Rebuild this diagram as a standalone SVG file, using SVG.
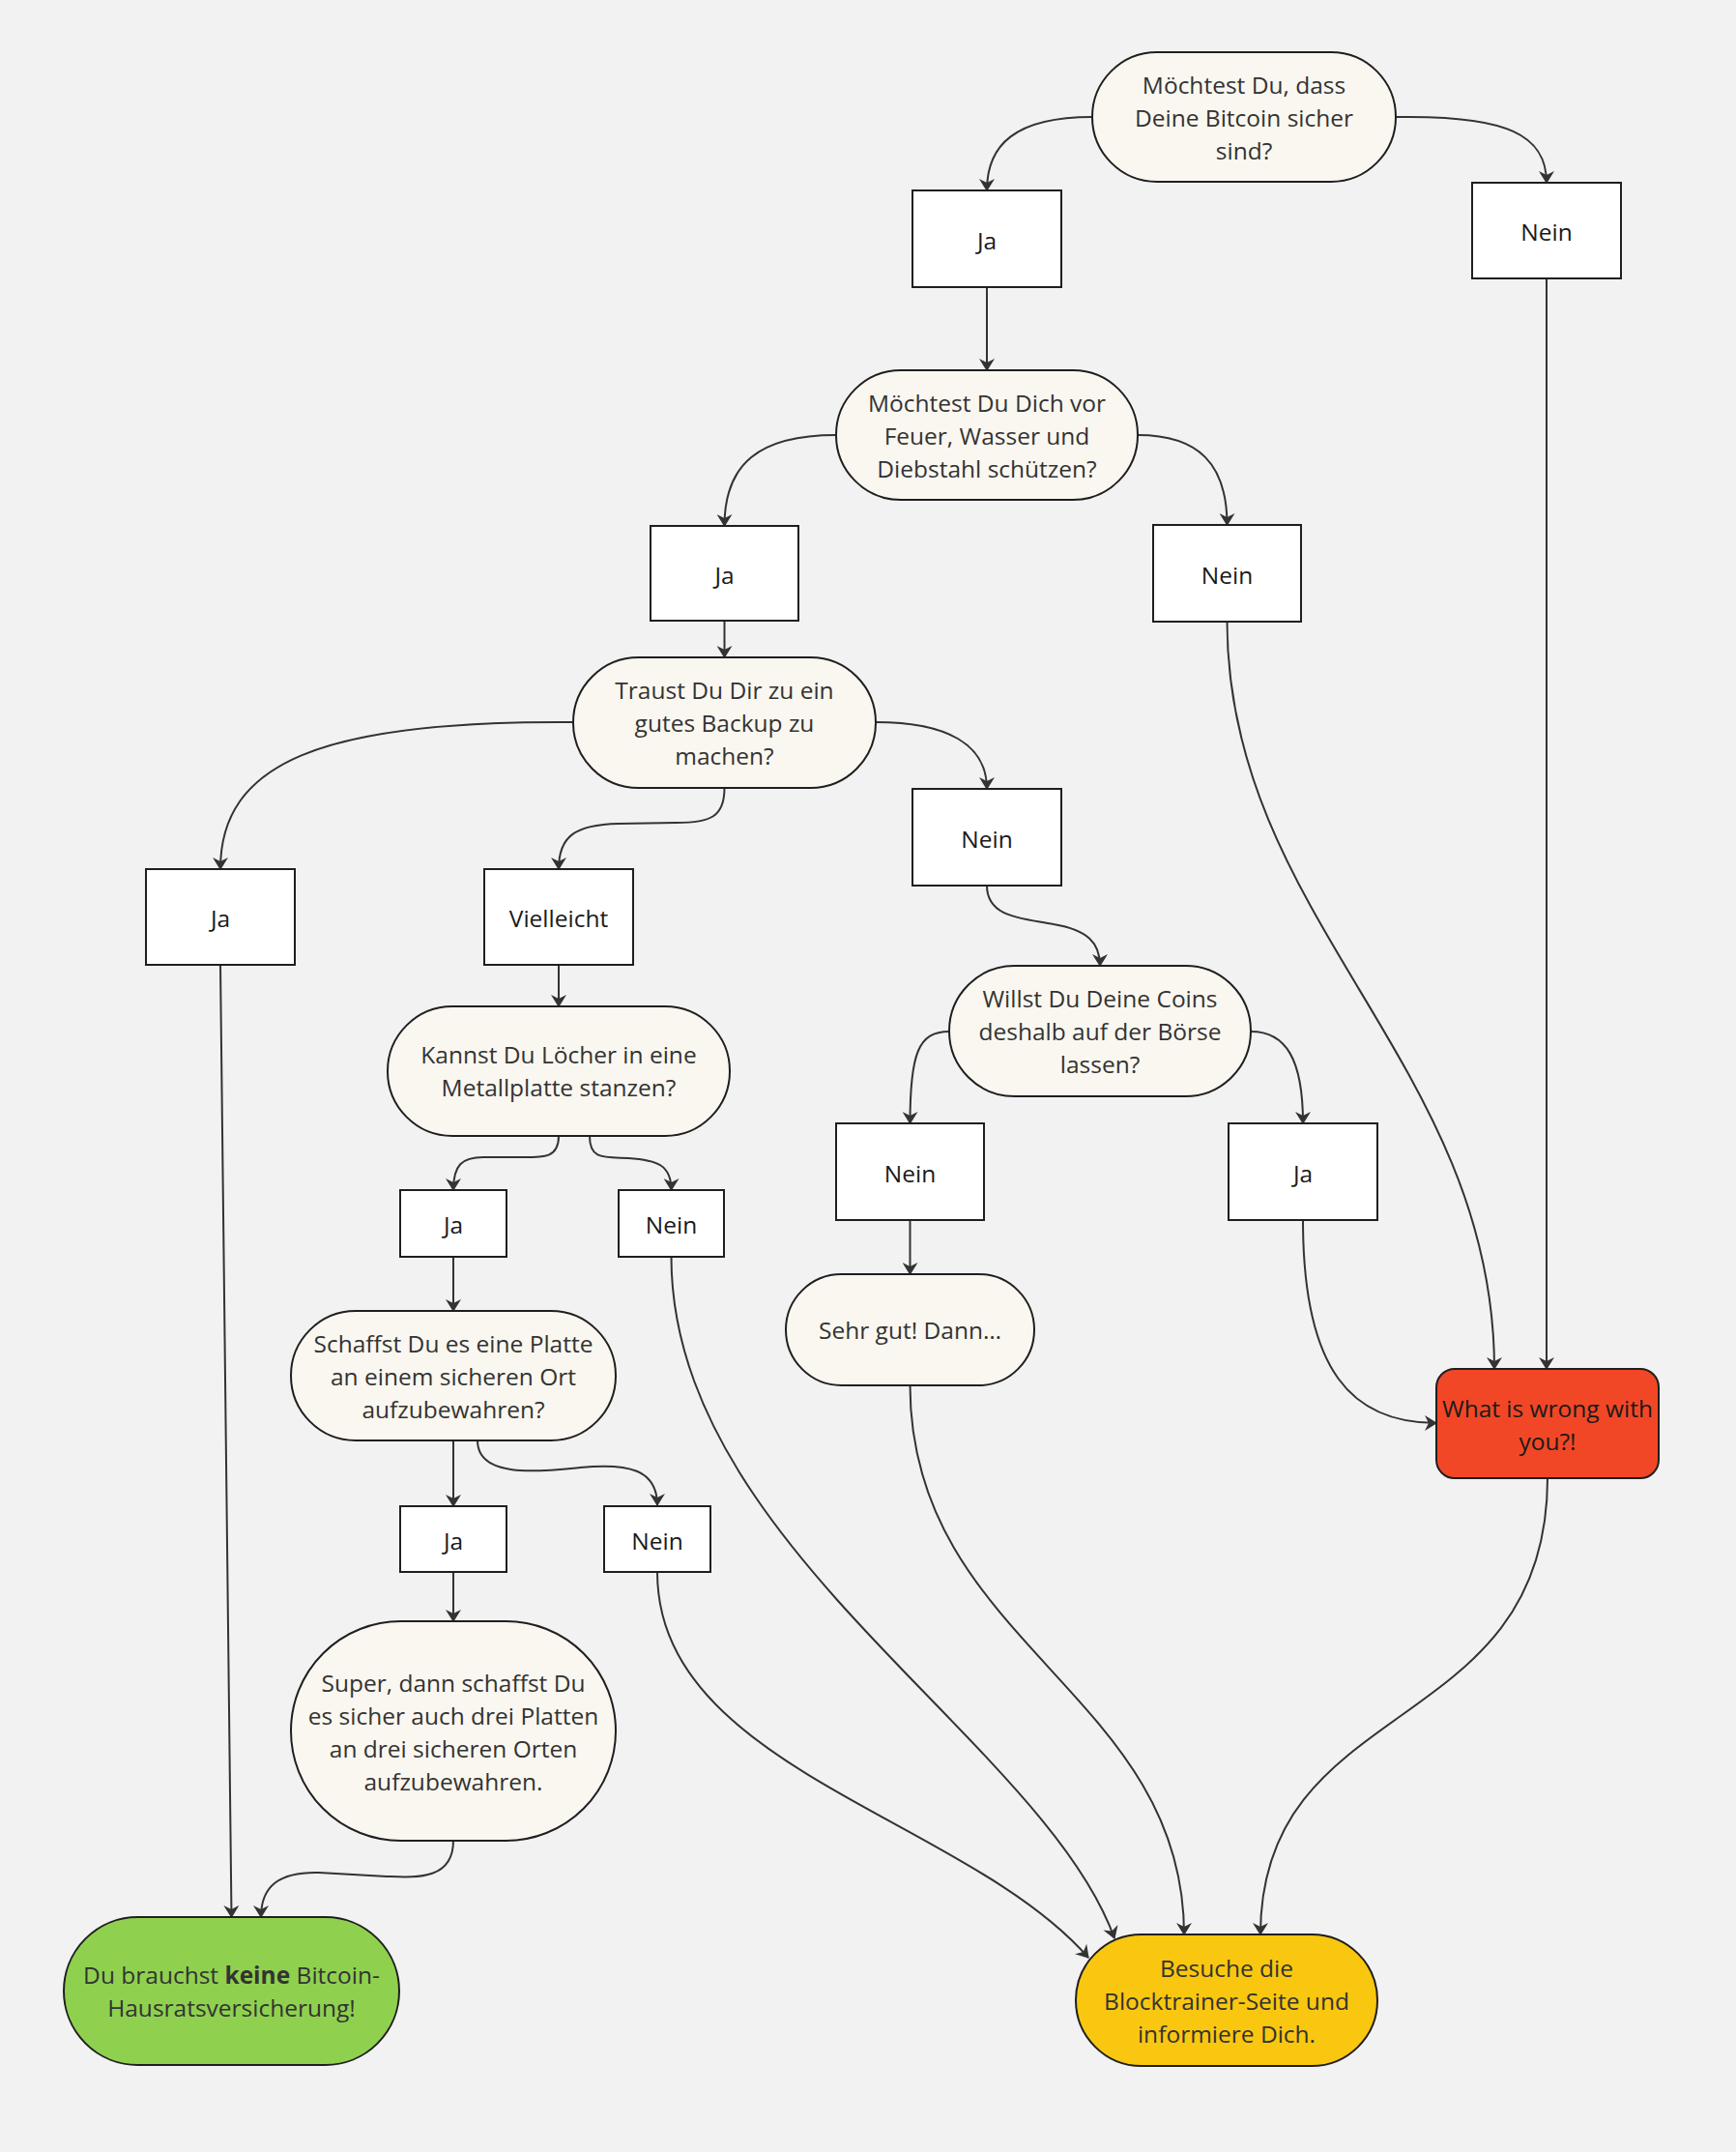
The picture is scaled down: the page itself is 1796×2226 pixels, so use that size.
<svg xmlns="http://www.w3.org/2000/svg" width="1796" height="2226" viewBox="0 0 1796 2226">
<defs>
<marker id="arr" viewBox="0 0 13 16" refX="12" refY="8" markerWidth="13" markerHeight="16" markerUnits="userSpaceOnUse" orient="auto">
<path d="M13,8 L0,0 L4,8 L0,16 z" fill="#333333"/>
</marker>
<style>
.bg{fill:#f2f2f2}
.q{fill:#faf7f0;stroke:#1f1f1f;stroke-width:2}
.b{fill:#ffffff;stroke:#1f1f1f;stroke-width:2}
.red{fill:#f24726;stroke:#1f1f1f;stroke-width:2}
.green{fill:#8fd14f;stroke:#1f1f1f;stroke-width:2}
.yellow{fill:#fac710;stroke:#1f1f1f;stroke-width:2}
text{font-family:"Open Sans","Noto Sans","Liberation Sans",sans-serif;font-size:24.5px;fill:#333333;text-anchor:middle}
.dk{fill:#1a1a1a}
.c path{fill:none;stroke:#333333;stroke-width:2;marker-end:url(#arr)}
</style>
</defs>
<rect class="bg" x="0" y="0" width="1796" height="2226"/>

<g id="connectors" class="c">
<path d="M1130,121 C1050,121 1021,150 1021,197"/>
<path d="M1444,121 C1560,119 1600,140 1600,189"/>
<path d="M1021,297 L1021,383"/>
<path d="M865,450 C785,450 749.5,480 749.5,544"/>
<path d="M1177,450 C1240,450 1269.5,480 1269.5,543"/>
<path d="M749.5,642 L749.5,680"/>
<path d="M593,747 C330,745 228,790 228,899"/>
<path d="M749.5,815 C749.5,845 735,851 700,851 L640,852 C595,853 578,865 578,899"/>
<path d="M906,747 C980,747 1021,770 1021,816"/>
<path d="M578,998 L578,1041"/>
<path d="M228,998 L239.5,1983"/>
<path d="M578,1175 C578,1200 560,1197 530,1197 L500,1197 C478,1197 469,1205 469,1231"/>
<path d="M610,1175 C610,1200 625,1197 650,1198 C680,1200 694.5,1205 694.5,1231"/>
<path d="M469,1300 L469,1356"/>
<path d="M694.5,1300 C694.5,1600 1080,1800 1153,2005"/>
<path d="M469,1490 L469,1558"/>
<path d="M494,1490 C494,1530 560,1522 600,1518 C650,1513 680,1520 680,1557"/>
<path d="M469,1626 L469,1677"/>
<path d="M469,1904 C469,1945 430,1942 400,1941 L330,1937 C290,1936 270,1950 270,1983"/>
<path d="M680,1626 C680,1830 1000,1880 1126,2025"/>
<path d="M1021,916 C1021,950 1060,950 1090,956 C1125,962 1138,975 1138,999"/>
<path d="M982,1067 C950,1067 941.5,1090 941.5,1162"/>
<path d="M1294,1067 C1330,1067 1348,1095 1348,1162"/>
<path d="M941.5,1262 L941.5,1318"/>
<path d="M1348,1262 C1348,1420 1400,1472 1486,1472"/>
<path d="M1269.5,643 C1269.5,950 1546,1100 1546,1416"/>
<path d="M1600,288 L1600,1416"/>
<path d="M1601,1529 C1601,1800 1304,1750 1304,2001"/>
<path d="M941.5,1433 C941.5,1700 1225,1750 1225,2001"/>
</g>

<g id="q1">
<rect class="q" x="1130" y="54" width="314" height="134" rx="67"/>
<text x="1287" y="97">Möchtest Du, dass</text>
<text x="1287" y="131">Deine Bitcoin sicher</text>
<text x="1287" y="165">sind?</text>
</g>
<g id="ja1">
<rect class="b" x="944" y="197" width="154" height="100"/>
<text class="dk" x="1021" y="257.5">Ja</text>
</g>
<g id="nein1">
<rect class="b" x="1523" y="189" width="154" height="99"/>
<text class="dk" x="1600" y="248.5">Nein</text>
</g>
<g id="q2">
<rect class="q" x="865" y="383" width="312" height="134" rx="67"/>
<text x="1021" y="426">Möchtest Du Dich vor</text>
<text x="1021" y="460">Feuer, Wasser und</text>
<text x="1021" y="494">Diebstahl schützen?</text>
</g>
<g id="ja2">
<rect class="b" x="673" y="544" width="153" height="98"/>
<text class="dk" x="749.5" y="603.5">Ja</text>
</g>
<g id="nein2">
<rect class="b" x="1193" y="543" width="153" height="100"/>
<text class="dk" x="1269.5" y="603.5">Nein</text>
</g>
<g id="q3">
<rect class="q" x="593" y="680" width="313" height="135" rx="67.5"/>
<text x="749.5" y="723">Traust Du Dir zu ein</text>
<text x="749.5" y="757">gutes Backup zu</text>
<text x="749.5" y="791">machen?</text>
</g>
<g id="ja3">
<rect class="b" x="151" y="899" width="154" height="99"/>
<text class="dk" x="228" y="958.5">Ja</text>
</g>
<g id="vielleicht">
<rect class="b" x="501" y="899" width="154" height="99"/>
<text class="dk" x="578" y="958.5">Vielleicht</text>
</g>
<g id="nein3">
<rect class="b" x="944" y="816" width="154" height="100"/>
<text class="dk" x="1021" y="876.5">Nein</text>
</g>
<g id="q4">
<rect class="q" x="401" y="1041" width="354" height="134" rx="67"/>
<text x="578" y="1100">Kannst Du Löcher in eine</text>
<text x="578" y="1134">Metallplatte stanzen?</text>
</g>
<g id="ja4">
<rect class="b" x="414" y="1231" width="110" height="69"/>
<text class="dk" x="469" y="1275.5">Ja</text>
</g>
<g id="nein4">
<rect class="b" x="640" y="1231" width="109" height="69"/>
<text class="dk" x="694.5" y="1275.5">Nein</text>
</g>
<g id="q5">
<rect class="q" x="982" y="999" width="312" height="135" rx="67.5"/>
<text x="1138" y="1042">Willst Du Deine Coins</text>
<text x="1138" y="1076">deshalb auf der Börse</text>
<text x="1138" y="1110">lassen?</text>
</g>
<g id="nein5">
<rect class="b" x="865" y="1162" width="153" height="100"/>
<text class="dk" x="941.5" y="1222.5">Nein</text>
</g>
<g id="ja5">
<rect class="b" x="1271" y="1162" width="154" height="100"/>
<text class="dk" x="1348" y="1222.5">Ja</text>
</g>
<g id="sehrgut">
<rect class="q" x="813" y="1318" width="257" height="115" rx="57.5"/>
<text x="941.5" y="1385">Sehr gut! Dann…</text>
</g>
<g id="wrong">
<rect class="red" x="1486" y="1416" width="230" height="113" rx="19"/>
<text class="dk" x="1601" y="1466">What is wrong with</text>
<text class="dk" x="1601" y="1500">you?!</text>
</g>
<g id="q6">
<rect class="q" x="301" y="1356" width="336" height="134" rx="67"/>
<text x="469" y="1399">Schaffst Du es eine Platte</text>
<text x="469" y="1433">an einem sicheren Ort</text>
<text x="469" y="1467">aufzubewahren?</text>
</g>
<g id="ja6">
<rect class="b" x="414" y="1558" width="110" height="68"/>
<text class="dk" x="469" y="1602.5">Ja</text>
</g>
<g id="nein6">
<rect class="b" x="625" y="1558" width="110" height="68"/>
<text class="dk" x="680" y="1602.5">Nein</text>
</g>
<g id="super">
<rect class="q" x="301" y="1677" width="336" height="227" rx="113.5"/>
<text x="469" y="1750">Super, dann schaffst Du</text>
<text x="469" y="1784">es sicher auch drei Platten</text>
<text x="469" y="1818">an drei sicheren Orten</text>
<text x="469" y="1852">aufzubewahren.</text>
</g>
<g id="keine">
<rect class="green" x="66" y="1983" width="347" height="153" rx="76.5"/>
<text x="239.5" y="2052">Du brauchst <tspan font-weight="bold">keine</tspan> Bitcoin-</text>
<text x="239.5" y="2086">Hausratsversicherung!</text>
</g>
<g id="besuche">
<rect class="yellow" x="1113" y="2001" width="312" height="136" rx="68"/>
<text x="1269" y="2045">Besuche die</text>
<text x="1269" y="2079">Blocktrainer-Seite und</text>
<text x="1269" y="2113">informiere Dich.</text>
</g>
</svg>
